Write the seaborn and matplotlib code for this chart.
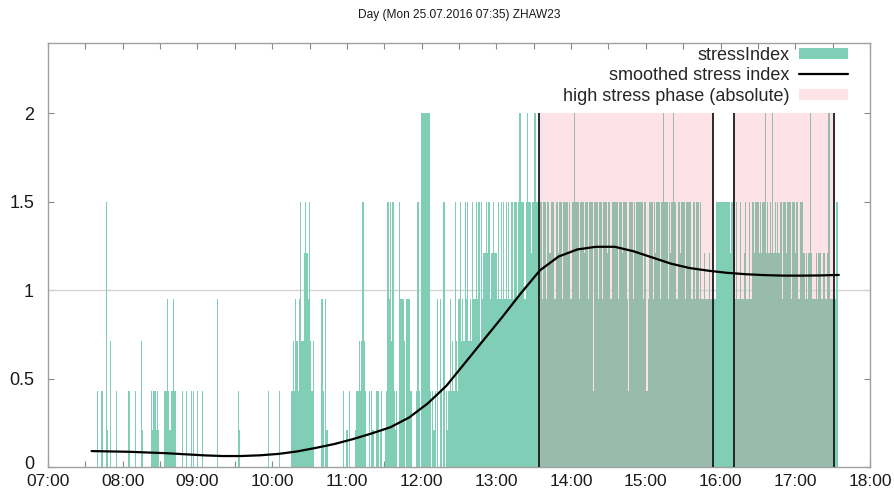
import numpy as np
import pandas as pd
import matplotlib
matplotlib.use("Agg")
import matplotlib.pyplot as plt
import matplotlib.dates as mdates
import matplotlib.transforms as mtransforms
from matplotlib.patches import Patch
from matplotlib.lines import Line2D
import seaborn as sns

day = pd.Timestamp("2016-07-25")
first_sample = "07:35"

# stress index levels, one code per minute (index into levels)
levels = [0, 0.21, 0.43, 0.71, 0.95, 1.21, 1.5, 2.0]
stress_rows = [
    "00000" "20022" "00610" "30000" "20000" "00000" "20000" "20000" "31000" "00021" "22121" "00002",  # 07:35
    "24212" "24200" "00020" "02000" "20200" "20002" "00000" "00000" "04000" "00000" "00000" "00021",  # 08:35
    "00000" "00000" "00000" "00000" "00200" "00000" "02000" "00000" "02324" "32463" "35654" "63230",  # 09:35
    "00000" "42041" "00000" "00000" "00200" "10200" "00122" "32363" "20020" "21002" "20120" "01264",  # 10:35
    "63621" "20644" "43044" "42200" "02620" "77777" "77202" "12040" "42060" "21242" "32632" "46343",  # 11:35
    "64634" "36446" "46364" "55656" "45565" "54646" "46464" "64664" "66467" "66646" "76656" "67666",  # 12:35
    "66466" "46656" "66466" "56646" "66656" "46676" "66466" "65664" "66626" "66466" "46665" "66466",  # 13:35
    "66646" "65666" "42666" "46566" "66646" "62466" "64656" "66467" "66646" "56766" "46656" "66466",  # 14:35
    "66466" "46646" "44544" "45444" "44666" "66666" "66656" "66464" "46445" "64464" "46566" "65656",  # 15:35
    "67565" "65756" "56566" "46656" "66466" "56646" "66545" "45754" "44545" "54454" "45744" "44466",  # 16:35
]

# high stress phases (absolute)
phase_start = ["13:34", "16:11"]
phase_end = ["15:54", "17:31"]
phase_top = 2.0

# smoothed stress index
smooth_clock = ["07:35", "07:50", "08:05", "08:20", "08:35", "08:50", "09:05", "09:20",
                "09:35", "09:50", "10:05", "10:20", "10:35", "10:50", "11:05", "11:20",
                "11:35", "11:50", "12:05", "12:20", "12:35", "12:50", "13:05", "13:20",
                "13:35", "13:50", "14:05", "14:20", "14:35", "14:50", "15:05", "15:20",
                "15:35", "15:50", "16:05", "16:20", "16:35", "16:50", "17:05", "17:20", "17:35"]
smooth_vals = [0.090, 0.088, 0.086, 0.082, 0.078, 0.072, 0.066, 0.062,
               0.062, 0.066, 0.074, 0.088, 0.108, 0.130, 0.158, 0.190,
               0.225, 0.280, 0.360, 0.460, 0.590, 0.720, 0.850, 0.985,
               1.112, 1.190, 1.230, 1.245, 1.245, 1.220, 1.185, 1.150,
               1.125, 1.110, 1.098, 1.090, 1.085, 1.082, 1.082, 1.083, 1.086]

green = "#80ceb6"
overlap = "#98bcab"
pink = "#fde3e7"


def at(clock):
    return day + pd.Timedelta(clock + ":00")


codes = "".join(stress_rows)
t0 = at(first_sample)
times = pd.DatetimeIndex([t0 + pd.Timedelta(minutes=i) for i in range(len(codes))])
values = np.array([levels[int(c)] for c in codes])

starts = [at(s) for s in phase_start]
ends = [at(e) for e in phase_end]
in_phase = np.zeros(len(times), dtype=bool)
for s, e in zip(starts, ends):
    in_phase |= (times >= s) & (times < e)
bar_colors = np.where(in_phase, overlap, green)

df_smooth = pd.DataFrame({"time": [at(c) for c in smooth_clock], "value": smooth_vals})

sns.set_theme(style="white")
plt.rcParams["font.family"] = ["Liberation Sans", "DejaVu Sans"]

fig = plt.figure(figsize=(8.94, 4.91), dpi=100)
ax = fig.add_axes([48 / 894, 1 - 467 / 491, 822 / 894, 424.5 / 491])

for s, e in zip(starts, ends):
    ax.fill_between([s, e], 0, phase_top, color=pink, lw=0, zorder=1)
ax.axhline(1.0, color="#d4d4d4", lw=1, zorder=1.5)
ax.bar(times, values, width=1 / 1440, color=bar_colors, lw=0, zorder=2)
ax.vlines(starts + ends, 0, phase_top, color="#1a1a1a", lw=1.3, zorder=3)
sns.lineplot(data=df_smooth, x="time", y="value", ax=ax, color="black", lw=1.6, zorder=4)

ax.set_xlim(at("07:00"), at("18:00"))
ax.set_ylim(0, 2.4)
ax.set_xlabel("")
ax.set_ylabel("")
ax.xaxis.set_major_locator(mdates.HourLocator())
ax.xaxis.set_major_formatter(mdates.DateFormatter("%H:%M"))
ax.xaxis.set_minor_locator(mdates.MinuteLocator(byminute=[30]))
ax.set_yticks([0, 0.5, 1, 1.5, 2])
ax.set_yticklabels(["0", "0.5", "1", "1.5", "2"])
ax.tick_params(axis="both", which="both", direction="in", length=4, width=0.8,
               color="#888888", labelsize=13, labelcolor="#1a1a1a",
               top=True, bottom=True, left=True, right=True)
ax.tick_params(axis="x", which="both", pad=5, labelsize=12.5)
ax.tick_params(axis="y", pad=10)
for lbl in ax.get_yticklabels():
    lbl.set_verticalalignment("center_baseline")
# lift the "0" a little, as in the original, so it clears "07:00"
zero_lbl = ax.get_yticklabels()[0]
zero_lbl.set_transform(zero_lbl.get_transform()
                       + mtransforms.ScaledTranslation(0, 3 / 72, fig.dpi_scale_trans))
for sp in ax.spines.values():
    sp.set_color("#a0a0a0")
    sp.set_linewidth(1)

handles = [Patch(facecolor=green, edgecolor="none"),
           Line2D([0], [0], color="black", lw=1.6),
           Patch(facecolor=pink, edgecolor="none")]
labels = ["stressIndex", "smoothed stress index", "high stress phase (absolute)"]
ax.legend(handles, labels, loc="upper right", bbox_to_anchor=(0.9735, 0.99),
          frameon=False, markerfirst=False, fontsize=13, handlelength=2.7,
          handleheight=0.6, labelspacing=0.2, handletextpad=0.55,
          borderaxespad=0, borderpad=0)

fig.text(459 / 894, 1 - 15 / 491, "Day (Mon 25.07.2016 07:35) ZHAW23",
         ha="center", va="center", fontsize=8.6, color="#1a1a1a")

fig.savefig("out.png", dpi=100)
